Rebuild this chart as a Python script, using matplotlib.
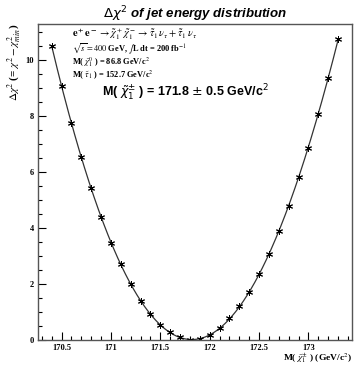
import numpy as np
import matplotlib
matplotlib.use("Agg")
import matplotlib.pyplot as plt
from matplotlib.ticker import MultipleLocator

# chargino mass scan points and delta chi2 values
mass = [170.4, 170.5, 170.6, 170.7, 170.8, 170.9, 171.0, 171.1, 171.2, 171.3,
        171.4, 171.5, 171.6, 171.7, 171.8, 171.9, 172.0, 172.1, 172.2, 172.3,
        172.4, 172.5, 172.6, 172.7, 172.8, 172.9, 173.0, 173.1, 173.2, 173.3]
dchi2 = [10.50, 9.07, 7.76, 6.55, 5.42, 4.40, 3.48, 2.70, 2.00, 1.40,
         0.92, 0.54, 0.27, 0.09, 0.01, 0.02, 0.18, 0.42, 0.77, 1.20,
         1.72, 2.35, 3.07, 3.88, 4.80, 5.84, 6.88, 8.08, 9.35, 10.75]

info_lines = [
    r"$\mathbf{e^+e^-} \rightarrow \tilde{\chi}_1^+\,\tilde{\chi}_1^- \rightarrow \tilde{\tau}_1\,\nu_\tau + \tilde{\tau}_1\,\nu_\tau$",
    r"$\sqrt{s} = 400$ GeV, $\int$L dt = 200 fb$^{-1}$",
    r"M( $\tilde{\chi}_1^0$ ) = 86.8 GeV/c$^2$",
    r"M( $\tilde{\tau}_1$ ) = 152.7 GeV/c$^2$",
]
result = r"M( $\tilde{\chi}_1^{\pm}$ ) = 171.8 $\pm$ 0.5 GeV/c$^2$"

plt.rcParams['font.family'] = ['Liberation Serif', 'DejaVu Serif']
plt.rcParams['mathtext.fontset'] = 'stix'

fig = plt.figure(figsize=(3.54, 3.65), dpi=100)
ax = fig.add_axes([0.107, 0.0685, 0.887, 0.866])

# smooth fitted curve through the scan
coef = np.polyfit(mass, dchi2, 4)
xs = np.linspace(mass[0], mass[-1], 300)
ax.plot(xs, np.polyval(coef, xs), color='#333333', lw=0.9)
ax.plot(mass, dchi2, ls='none', marker=(6, 2, 0), ms=5, mec='black', mew=0.7)

ax.set_xlim(170.26, 173.44)
ax.set_ylim(0, 11.3)
ax.xaxis.set_major_locator(MultipleLocator(0.5))
ax.xaxis.set_minor_locator(MultipleLocator(0.1))
ax.yaxis.set_major_locator(MultipleLocator(2))
ax.yaxis.set_minor_locator(MultipleLocator(0.5))
ax.tick_params(which='both', direction='in', labelsize=6, width=0.8, pad=3)
ax.tick_params(which='major', length=6)
ax.tick_params(which='minor', length=3)
ax.xaxis.set_major_formatter(matplotlib.ticker.FuncFormatter(lambda v, p: f"{v:g}"))
for lab in ax.get_xticklabels() + ax.get_yticklabels():
    lab.set_fontweight('bold')
for s in ax.spines.values():
    s.set_color('#555555')
    s.set_linewidth(1.0)

ax.set_title(r"$\Delta\chi^2$ of jet energy distribution", family='Liberation Sans',
             fontsize=9.5, fontweight='bold', style='italic', math_fontfamily='dejavusans', pad=4)

ax.text(0.109, 0.968, info_lines[0], transform=ax.transAxes, fontsize=7.5, fontweight='bold', va='center')
ax.text(0.109, 0.922, info_lines[1], transform=ax.transAxes, fontsize=6, fontweight='bold', va='center')
ax.text(0.109, 0.880, info_lines[2], transform=ax.transAxes, fontsize=6, fontweight='bold', va='center')
ax.text(0.109, 0.838, info_lines[3], transform=ax.transAxes, fontsize=6, fontweight='bold', va='center')
ax.text(0.205, 0.78, result, transform=ax.transAxes, fontsize=9, family='Liberation Sans',
        fontweight='bold', math_fontfamily='dejavusans', va='center')

ax.text(-0.073, 1.0, r"$\Delta\chi^2$ (= $\chi^2 - \chi^2_{min}$)", transform=ax.transAxes,
        rotation=90, ha='center', va='top', fontsize=8, fontweight='bold')
ax.text(1.0, -0.058, r"M( $\tilde{\chi}_1^{\pm}$ ) (GeV/c$^2$)", transform=ax.transAxes,
        ha='right', va='center', fontsize=6.8, fontweight='bold')

fig.savefig("out.png", dpi=100)
